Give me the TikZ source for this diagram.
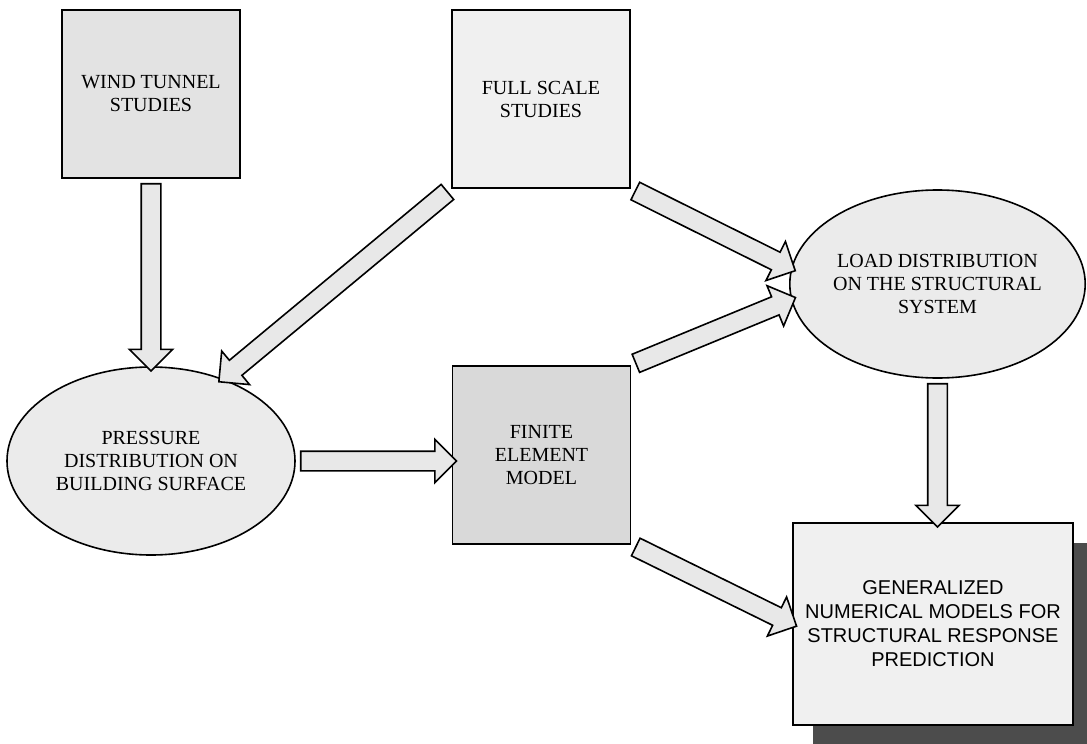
\documentclass[tikz,border=0pt]{standalone}
\usepackage{fontspec}
\setmainfont{Liberation Serif}
\newfontfamily\arialfont{Liberation Sans}
\usetikzlibrary{calc,shapes.geometric,shapes.arrows,shadows}

% hollow block arrow from #1 to #2
\newcommand{\flowarrow}[2]{%
  \path let \p1=(#1), \p2=(#2),
    \n1={atan2(\y2-\y1,\x2-\x1)}, \n2={veclen(\x2-\x1,\y2-\y1)} in
    node[flow, minimum height=\n2, rotate=\n1] at ($(\p1)!0.5!(\p2)$) {};}

\begin{document}
\begin{tikzpicture}[%
      x=0.5pt, y=-0.5pt,
      every node/.style={font=\fontsize{10}{11.5}\selectfont, align=center},
      studybox/.style={draw, line width=0.8pt, rectangle, inner sep=0pt,
        minimum width=89pt, minimum height=89pt},
      stage/.style={draw, line width=0.8pt, ellipse, inner sep=0pt,
        minimum width=144pt, minimum height=94pt, fill=gray!16},
      flow/.style={draw, line width=0.8pt, single arrow, fill=gray!18,
        inner xsep=0pt, inner ysep=4.5pt, single arrow head extend=6pt,
        single arrow tip angle=90, single arrow head indent=0pt},
      ]
      \useasboundingbox (0,0) rectangle (1087,744);

      \node[studybox, fill=gray!22, minimum height=84pt] (wind) at (151,94) {WIND TUNNEL\\STUDIES};
      \node[studybox, fill=gray!12] (full) at (541,99) {FULL SCALE\\STUDIES};
      \node[studybox, fill=gray!30] (fem) at (541.5,455) {FINITE\\ELEMENT\\MODEL};
      \node[stage] (pres) at (151,461) {PRESSURE\\DISTRIBUTION ON\\BUILDING SURFACE};
      \node[stage] (load) at (937.5,284) {LOAD DISTRIBUTION\\ON THE STRUCTURAL\\SYSTEM};
      \node[draw, line width=0.8pt, fill=gray!12, minimum width=140pt, minimum height=101pt,
        font=\arialfont\fontsize{10}{12}\selectfont,
        drop shadow={shadow xshift=10pt, shadow yshift=-10pt, fill=black!70, opacity=1}]
        (gen) at (933,624) {GENERALIZED\\NUMERICAL MODELS FOR\\STRUCTURAL RESPONSE\\PREDICTION};

      \flowarrow{wind.south}{pres.north}
      \flowarrow{full.south west}{pres.49}
      \flowarrow{full.south east}{load.174}
      \flowarrow{fem.north east}{load.186}
      \flowarrow{pres.east}{pres.east -| fem.west}
      \flowarrow{load.south}{load.south |- gen.north}
      \flowarrow{fem.south east}{gen.west}
\end{tikzpicture}
\end{document}
